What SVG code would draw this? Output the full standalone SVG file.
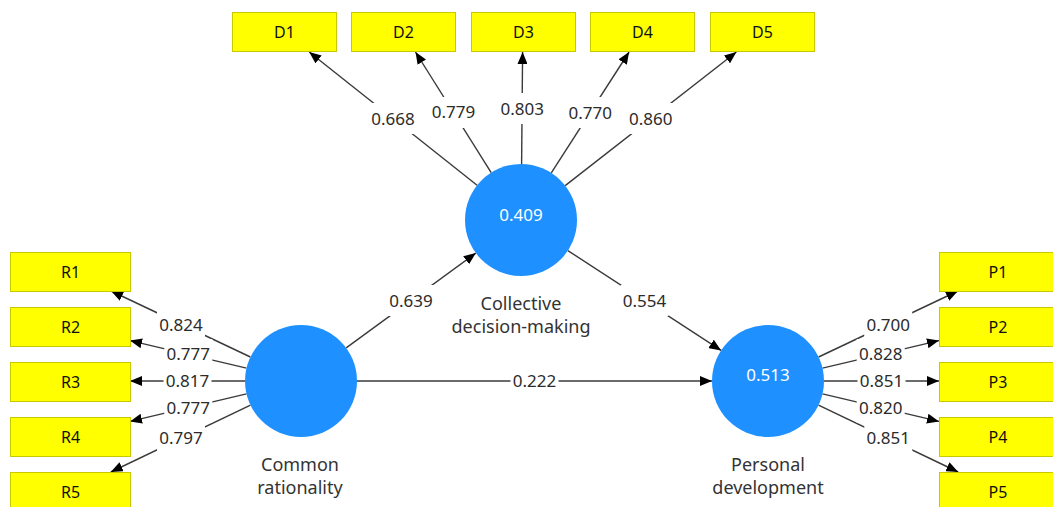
<svg xmlns="http://www.w3.org/2000/svg" width="1053" height="507" viewBox="0 0 1053 507">
<style>
.box{fill:#FFFF00;stroke:#C9C900;stroke-width:1}
.bt{font-family:"Noto Sans","Open Sans",sans-serif;font-size:16px;fill:#111;text-anchor:middle}
.lv{fill:#1E90FF}
.lvt{font-family:"Noto Sans","Open Sans",sans-serif;font-size:17px;fill:#fff;text-anchor:middle}
.nm{font-family:"Noto Sans","Open Sans",sans-serif;font-size:18px;fill:#333;text-anchor:middle}
.ln{stroke:#3a3a3a;stroke-width:1.4;fill:none;marker-end:url(#ah)}
.lb rect{fill:#fff}
.lb text{font-family:"Noto Sans","Open Sans",sans-serif;font-size:17px;fill:#2b2b2b;text-anchor:middle}
</style>
<defs>
<marker id="ah" viewBox="0 0 12 10" refX="12" refY="5" markerWidth="12" markerHeight="10" markerUnits="userSpaceOnUse" orient="auto">
<path d="M0,0 L12,5 L0,10 z" fill="#000"/>
</marker>
</defs>
<rect width="1053" height="507" fill="#fff"/>
<g id="connectors">
<line class="ln" x1="477.1" y1="185.2" x2="309.2" y2="52"/>
<line class="ln" x1="491.2" y1="172.6" x2="415.5" y2="52"/>
<line class="ln" x1="521.6" y1="164" x2="522.6" y2="52"/>
<line class="ln" x1="551.3" y1="172.9" x2="629.1" y2="52"/>
<line class="ln" x1="565.2" y1="185.6" x2="736.4" y2="52"/>
<line class="ln" x1="250.4" y1="357" x2="111.1" y2="291"/>
<line class="ln" x1="246.5" y1="368.1" x2="130" y2="340.6"/>
<line class="ln" x1="245" y1="381" x2="130" y2="381"/>
<line class="ln" x1="246.5" y1="393.9" x2="130" y2="421.4"/>
<line class="ln" x1="250.5" y1="405.2" x2="110.8" y2="472"/>
<line class="ln" x1="818.6" y1="357" x2="957.9" y2="291"/>
<line class="ln" x1="822.5" y1="368.1" x2="939" y2="340.6"/>
<line class="ln" x1="824" y1="381" x2="939" y2="381"/>
<line class="ln" x1="822.5" y1="393.9" x2="939" y2="421.4"/>
<line class="ln" x1="818.5" y1="405.2" x2="958.2" y2="472"/>
<line class="ln" x1="346.2" y1="347.9" x2="475.8" y2="253.1"/>
<line class="ln" x1="567.9" y1="250.6" x2="721.1" y2="350.4"/>
<line class="ln" x1="357" y1="381" x2="712" y2="381"/>
<g class="lb">
<rect x="369" y="103" width="48" height="31"/><text x="393" y="124.6">0.668</text>
<rect x="429.4" y="97" width="48" height="31"/><text x="453.4" y="118.3">0.779</text>
<rect x="498.2" y="93" width="48" height="31"/><text x="522.2" y="114.5">0.803</text>
<rect x="566.2" y="97" width="48" height="31"/><text x="590.2" y="118.5">0.770</text>
<rect x="626.8" y="103" width="48" height="31"/><text x="650.8" y="124.8">0.860</text>
<rect x="157" y="309" width="48" height="31"/><text x="181" y="330.6">0.824</text>
<rect x="164.3" y="339" width="48" height="31"/><text x="188.3" y="360.4">0.777</text>
<rect x="163.5" y="365.5" width="48" height="31"/><text x="187.5" y="387">0.817</text>
<rect x="164.3" y="392" width="48" height="31"/><text x="188.3" y="413.6">0.777</text>
<rect x="157" y="423" width="48" height="31"/><text x="181" y="444.2">0.797</text>
<rect x="864.2" y="309" width="48" height="31"/><text x="888.2" y="330.6">0.700</text>
<rect x="856.7" y="339" width="48" height="31"/><text x="880.7" y="360.4">0.828</text>
<rect x="857.5" y="365.5" width="48" height="31"/><text x="881.5" y="387">0.851</text>
<rect x="856.7" y="392" width="48" height="31"/><text x="880.7" y="413.6">0.820</text>
<rect x="864.3" y="423" width="48" height="31"/><text x="888.3" y="444.2">0.851</text>
<rect x="387" y="285" width="48" height="31"/><text x="411" y="306.5">0.639</text>
<rect x="620.5" y="285" width="48" height="31"/><text x="644.5" y="306.5">0.554</text>
<rect x="510.5" y="365.5" width="48" height="31"/><text x="534.5" y="387">0.222</text>
</g>
</g>
<g id="D1"><rect class="box" x="232.5" y="12.5" width="104" height="39"/><text class="bt" x="284.5" y="37.5">D1</text></g>
<g id="D2"><rect class="box" x="351.5" y="12.5" width="104" height="39"/><text class="bt" x="403.5" y="37.5">D2</text></g>
<g id="D3"><rect class="box" x="471.5" y="12.5" width="104" height="39"/><text class="bt" x="523.5" y="37.5">D3</text></g>
<g id="D4"><rect class="box" x="590.5" y="12.5" width="104" height="39"/><text class="bt" x="642.5" y="37.5">D4</text></g>
<g id="D5"><rect class="box" x="710.5" y="12.5" width="104" height="39"/><text class="bt" x="762.5" y="37.5">D5</text></g>
<g id="R1"><rect class="box" x="10.5" y="252.5" width="120" height="39"/><text class="bt" x="70.5" y="277.5">R1</text></g>
<g id="R2"><rect class="box" x="10.5" y="307.5" width="120" height="39"/><text class="bt" x="70.5" y="332.5">R2</text></g>
<g id="R3"><rect class="box" x="10.5" y="362.5" width="120" height="39"/><text class="bt" x="70.5" y="387.5">R3</text></g>
<g id="R4"><rect class="box" x="10.5" y="417.5" width="120" height="39"/><text class="bt" x="70.5" y="442.5">R4</text></g>
<g id="R5"><rect class="box" x="10.5" y="472.5" width="120" height="39"/><text class="bt" x="70.5" y="497.5">R5</text></g>
<g id="P1"><rect class="box" x="939.5" y="252.5" width="120" height="39"/><text class="bt" x="998" y="277.5">P1</text></g>
<g id="P2"><rect class="box" x="939.5" y="307.5" width="120" height="39"/><text class="bt" x="998" y="332.5">P2</text></g>
<g id="P3"><rect class="box" x="939.5" y="362.5" width="120" height="39"/><text class="bt" x="998" y="387.5">P3</text></g>
<g id="P4"><rect class="box" x="939.5" y="417.5" width="120" height="39"/><text class="bt" x="998" y="442.5">P4</text></g>
<g id="P5"><rect class="box" x="939.5" y="472.5" width="120" height="39"/><text class="bt" x="998" y="497.5">P5</text></g>
<g id="collective-decision-making">
<circle class="lv" cx="521" cy="220" r="56"/>
<text class="lvt" x="521" y="221">0.409</text>
<text class="nm" x="521" y="310">Collective</text>
<text class="nm" x="521" y="333">decision-making</text>
</g>
<g id="common-rationality">
<circle class="lv" cx="301" cy="381" r="56"/>
<text class="nm" x="300" y="471">Common</text>
<text class="nm" x="300" y="494">rationality</text>
</g>
<g id="personal-development">
<circle class="lv" cx="768" cy="381" r="56"/>
<text class="lvt" x="768" y="381">0.513</text>
<text class="nm" x="768" y="471">Personal</text>
<text class="nm" x="768" y="494">development</text>
</g>
</svg>
